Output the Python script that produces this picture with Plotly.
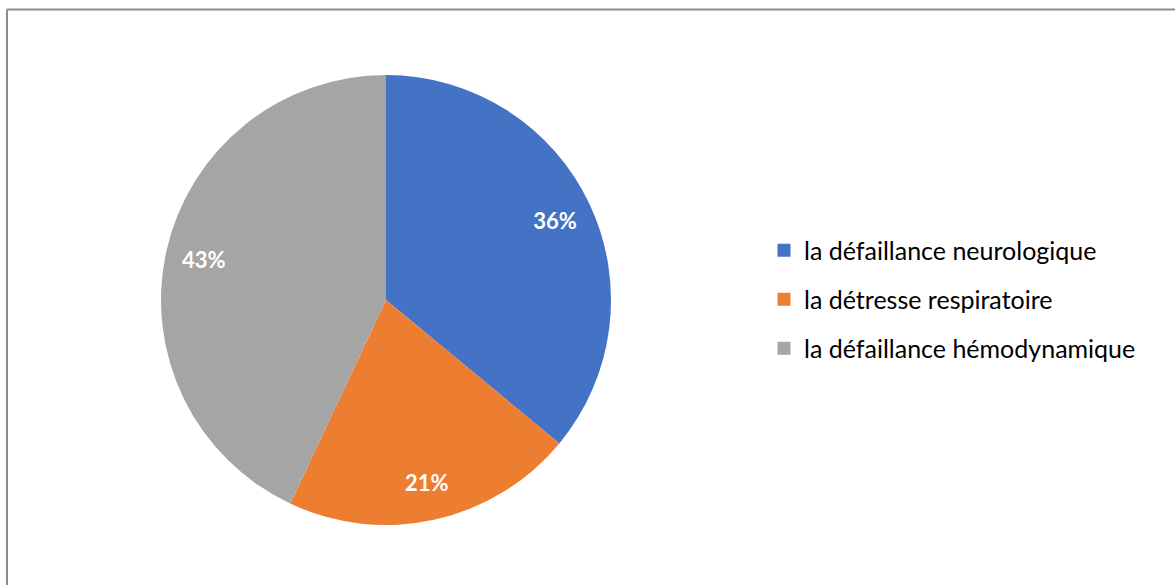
import plotly.graph_objects as go

categories = ["la défaillance neurologique", "la détresse respiratoire", "la défaillance hémodynamique"]
values = [36, 21, 43]
colors = ["#4472C4", "#ED7D31", "#A5A5A5"]

W, H = 1175, 585
cx, cy, r = 386, 300, 225
dom = dict(x=[(cx - r) / W, (cx + r) / W], y=[(H - cy - r) / H, (H - cy + r) / H])

fig = go.Figure()
fig.add_trace(go.Pie(
    labels=categories, values=values, sort=False, direction="clockwise", rotation=0,
    marker=dict(colors=colors, line=dict(width=0)),
    textinfo="none", showlegend=False, hoverinfo="label+percent", domain=dom,
))
# transparent ring carrying the data labels (places them at ~0.83 of the radius)
fig.add_trace(go.Pie(
    labels=categories, values=values, sort=False, direction="clockwise", rotation=0,
    hole=0.66, marker=dict(colors=["rgba(0,0,0,0)"] * 3, line=dict(width=0)),
    texttemplate="%{percent:.0%}", textposition="inside", insidetextorientation="horizontal",
    textfont=dict(family="Lato", size=22, color="white", weight="bold"),
    showlegend=False, hoverinfo="skip", domain=dom,
))
# legend entries built from the same category list
for i, (cat, col) in enumerate(zip(categories, colors)):
    fig.add_trace(go.Scatter(
        x=[None], y=[None], mode="markers", name=cat, legendgroup=str(i),
        marker=dict(symbol="square", size=13, color=col), showlegend=True,
    ))

fig.update_layout(
    width=W, height=H, margin=dict(l=0, r=0, t=0, b=0),
    paper_bgcolor="white", plot_bgcolor="white",
    xaxis=dict(visible=False), yaxis=dict(visible=False),
    legend=dict(x=(764) / W, y=(H - 227.5) / H, xanchor="left", yanchor="top",
                font=dict(family="Lato", size=25, color="#000000"),
                tracegroupgap=13.5, bgcolor="rgba(0,0,0,0)", itemclick=False),
    shapes=[
        dict(type="line", xref="paper", yref="paper", x0=7 / W, x1=1.01, y0=(H - 9.5) / H, y1=(H - 9.5) / H,
             line=dict(color="#8C8C8C", width=2)),
        dict(type="line", xref="paper", yref="paper", x0=7 / W, x1=7 / W, y0=-0.01, y1=(H - 9.5) / H,
             line=dict(color="#8C8C8C", width=2)),
    ],
)
fig.write_html("out.html")
